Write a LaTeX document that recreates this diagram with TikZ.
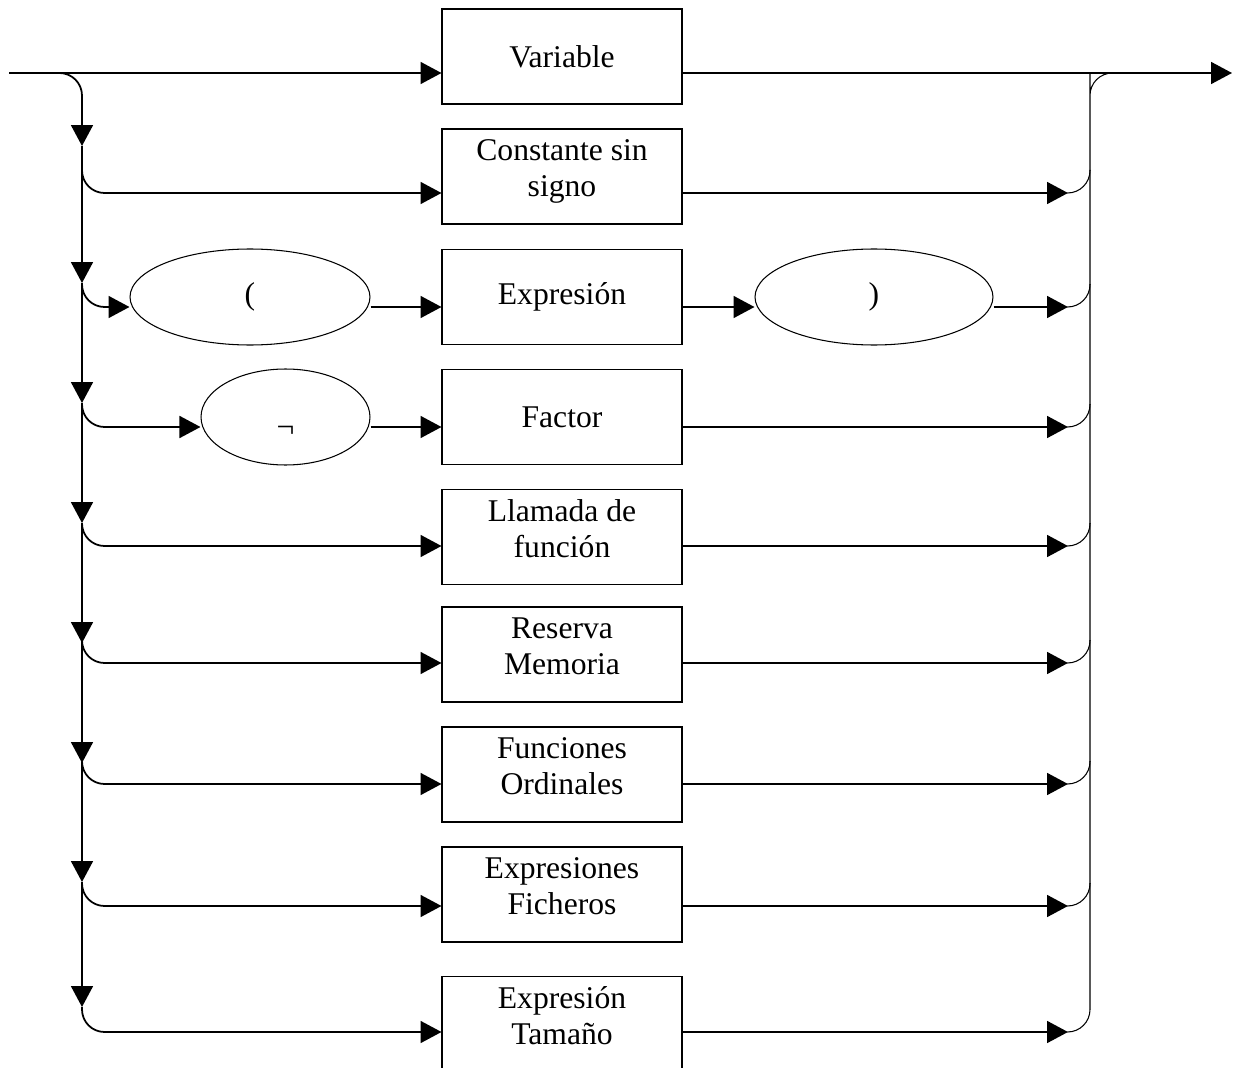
\documentclass[tikz,border=0pt]{standalone}
\usepackage{fontspec}
\setmainfont{Liberation Serif}
\usetikzlibrary{arrows.meta,shapes.geometric}

\begin{document}
\begin{tikzpicture}[x=0.02cm, y=-0.02cm,
	caja/.style={rectangle, draw=black, line width=0.6pt, minimum width=4.8cm, minimum height=1.9cm, align=center, font=\fontsize{18}{20.5}\selectfont},
	doble/.style={text depth=9.5pt},
	elip/.style={ellipse, draw=black, line width=0.6pt, minimum height=1.92cm, font=\fontsize{18}{20.5}\selectfont},
	flecha/.style={draw=black, line width=1pt, rounded corners=0.45cm, -{Triangle[length=0.42cm, width=0.44cm]}},
	curva/.style={draw=black, line width=0.6pt, rounded corners=0.45cm}]
				\useasboundingbox (0,0) rectangle (1242,1068);
				
				\coordinate (entrada) at (9,73);
				\coordinate (salida) at (1232,73);
				\coordinate (r1) at (0,73);
				\coordinate (r2) at (0,193);
				\coordinate (r3) at (0,307);
				\coordinate (r4) at (0,427);
				\coordinate (r5) at (0,546);
				\coordinate (r6) at (0,663);
				\coordinate (r7) at (0,784);
				\coordinate (r8) at (0,906);
				\coordinate (r9) at (0,1032);
				
				\node[caja] (var) at (562,56.5) {Variable};
				\node[caja, doble] (csn) at (562,176.5) {Constante sin\\signo};
				\node[caja] (expr) at (562,297) {Expresión};
				\node[caja] (fac) at (562,417) {Factor};
				\node[caja, doble] (llam) at (562,537) {Llamada de\\función};
				\node[caja, doble] (res) at (562,654.5) {Reserva\\Memoria};
				\node[caja, doble] (ford) at (562,774.5) {Funciones\\Ordinales};
				\node[caja, doble] (efich) at (562,894.5) {Expresiones\\Ficheros};
				\node[caja, doble] (etam) at (562,1024) {Expresión\\Tamaño};
				
				\node[elip, minimum width=4.8cm] (lpar) at (250,297) {(};
				\node[elip, minimum width=4.76cm] (rpar) at (874,297) {)};
				\node[elip, minimum width=3.38cm] (neg) at (285.5,417) {\raisebox{-11.5pt}[0pt][0pt]{¬}};
				
				% left rail
				\coordinate (izq1) at (82,146);
				\coordinate (izq2) at (82,283);
				\coordinate (izq3) at (82,403);
				\coordinate (izq4) at (82,523);
				\coordinate (izq5) at (82,643);
				\coordinate (izq6) at (82,763);
				\coordinate (izq7) at (82,882);
				\coordinate (izq8) at (82,1007);
				\draw[flecha] (60,73) -| (izq1);
				\draw[flecha] (izq1) -- (izq2);
				\draw[flecha] (izq2) -- (izq3);
				\draw[flecha] (izq3) -- (izq4);
				\draw[flecha] (izq4) -- (izq5);
				\draw[flecha] (izq5) -- (izq6);
				\draw[flecha] (izq6) -- (izq7);
				\draw[flecha] (izq7) -- (izq8);
				
				% right rail
				\coordinate (der2) at (1068,193);
				\coordinate (der3) at (1068,307);
				\coordinate (der4) at (1068,427);
				\coordinate (der5) at (1068,546);
				\coordinate (der6) at (1068,663);
				\coordinate (der7) at (1068,784);
				\coordinate (der8) at (1068,906);
				\coordinate (der9) at (1068,1032);
				\draw[curva] (1090,1009) -- (1090,95) |- (1112,73);
				\draw[curva] (der2) -| (1090,170);
				\draw[curva] (der3) -| (1090,284);
				\draw[curva] (der4) -| (1090,404);
				\draw[curva] (der5) -| (1090,523);
				\draw[curva] (der6) -| (1090,640);
				\draw[curva] (der7) -| (1090,761);
				\draw[curva] (der8) -| (1090,883);
				\draw[curva] (der9) -| (1090,1009);
				
				% branches
				\draw[flecha] (entrada) -- (var.west |- r1);
				\draw[flecha] (var.east |- r1) -- (salida);
				
				\draw[flecha] (82,170) |- (csn.west |- r2);
				\draw[flecha] (csn.east |- r2) -- (der2);
				
				\draw[flecha] (izq2) |- (lpar.west |- r3);
				\draw[flecha] (lpar.east |- r3) -- (expr.west |- r3);
				\draw[flecha] (expr.east |- r3) -- (rpar.west |- r3);
				\draw[flecha] (rpar.east |- r3) -- (der3);
				
				\draw[flecha] (izq3) |- (neg.west |- r4);
				\draw[flecha] (neg.east |- r4) -- (fac.west |- r4);
				\draw[flecha] (fac.east |- r4) -- (der4);
				
				\draw[flecha] (izq4) |- (llam.west |- r5);
				\draw[flecha] (llam.east |- r5) -- (der5);
				
				\draw[flecha] (izq5) |- (res.west |- r6);
				\draw[flecha] (res.east |- r6) -- (der6);
				
				\draw[flecha] (izq6) |- (ford.west |- r7);
				\draw[flecha] (ford.east |- r7) -- (der7);
				
				\draw[flecha] (izq7) |- (efich.west |- r8);
				\draw[flecha] (efich.east |- r8) -- (der8);
				
				\draw[flecha] (izq8) |- (etam.west |- r9);
				\draw[flecha] (etam.east |- r9) -- (der9);
				\end{tikzpicture}
\end{document}
